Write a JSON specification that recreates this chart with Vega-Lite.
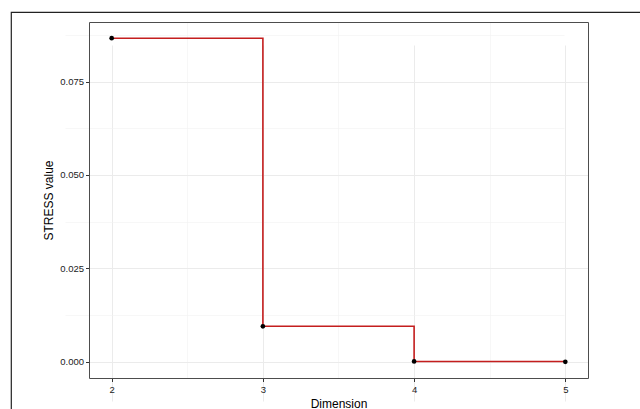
{
  "$schema": "https://vega.github.io/schema/vega-lite/v6.json",
  "width": 631,
  "height": 399,
  "autosize": {"type": "none"},
  "padding": {"left": 11, "top": 12, "right": 0, "bottom": 0},
  "background": "white",
  "config": {
    "view": {"stroke": "#222222", "strokeWidth": 1.2},
    "font": "Liberation Sans",
    "axis": {
      "labelFont": "Liberation Sans",
      "titleFont": "Liberation Sans",
      "labelFontSize": 9.5,
      "labelColor": "#222222",
      "titleFontSize": 12,
      "titleFontWeight": "normal",
      "titleColor": "#000000",
      "domainColor": "#4d4d4d",
      "tickColor": "#333333",
      "tickSize": 3.5,
      "gridColor": "#EBEBEB",
      "gridWidth": 1
    }
  },
  "data": {
    "values": [
      {"dim": 2, "stress": 0.0866},
      {"dim": 3, "stress": 0.0095},
      {"dim": 4, "stress": 0.0001},
      {"dim": 5, "stress": 0.0}
    ]
  },
  "resolve": {"axis": {"x": "independent", "y": "independent"}},
  "layer": [
    {
      "mark": {"type": "line", "interpolate": "step-after", "color": "#C41E1E", "strokeWidth": 1.6},
      "encoding": {
        "x": {
          "field": "dim", "type": "quantitative",
          "scale": {"domain": [1.85, 5.15], "range": [78, 577], "nice": false, "zero": false},
          "axis": {
            "orient": "bottom", "offset": -33, "values": [2, 3, 4, 5], "format": "d",
            "grid": true, "domain": true, "labelPadding": 3,
            "title": "Dimension", "titlePadding": 4
          }
        },
        "y": {
          "field": "stress", "type": "quantitative",
          "scale": {"domain": [-0.00433, 0.09093], "range": [366, 10], "nice": false, "zero": false},
          "axis": {
            "orient": "left", "offset": -78, "values": [0, 0.025, 0.05, 0.075], "format": ".3f",
            "grid": true, "domain": true, "labelPadding": 2,
            "title": "STRESS value", "titlePadding": 4
          }
        }
      }
    },
    {
      "mark": {"type": "point", "filled": true, "color": "#000000", "size": 22, "opacity": 1},
      "encoding": {
        "x": {
          "field": "dim", "type": "quantitative",
          "axis": {
            "orient": "top", "offset": -10, "values": [2.5, 3.5, 4.5],
            "grid": true, "gridColor": "#F2F2F2", "gridWidth": 0.6,
            "ticks": false, "labels": false, "domain": true, "title": null
          }
        },
        "y": {
          "field": "stress", "type": "quantitative",
          "axis": {
            "orient": "right", "offset": -54, "values": [0.0125, 0.0375, 0.0625, 0.0875],
            "grid": true, "gridColor": "#F2F2F2", "gridWidth": 0.6,
            "ticks": false, "labels": false, "domain": true, "title": null
          }
        }
      }
    }
  ]
}
